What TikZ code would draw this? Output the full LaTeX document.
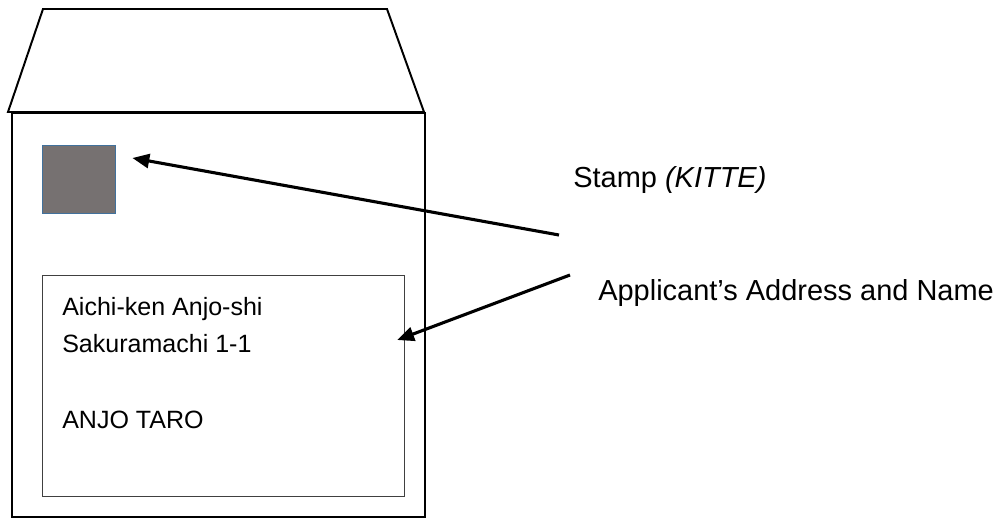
\documentclass[tikz,border=0pt]{standalone}
\usepackage{fontspec}
\setmainfont{Liberation Sans}
\usetikzlibrary{arrows.meta}
\definecolor{stampgray}{RGB}{118,113,113}
\definecolor{stampblue}{RGB}{65,113,156}

\tikzset{
	envline/.style={line width=1.4pt, draw=black},
	stampbox/.style={draw=stampblue, line width=1pt, fill=stampgray, inner sep=0pt, anchor=north west},
	addrbox/.style={draw=black!75, line width=0.8pt, inner sep=0pt, anchor=north west},
	pointer/.style={line width=2.2pt, -{Triangle[length=12pt,width=10pt]}},
	labeltext/.style={anchor=base west, inner sep=0pt, font=\fontsize{20.6}{24}\selectfont},
	addrtext/.style={anchor=base west, inner sep=0pt, font=\fontsize{17.8}{21}\selectfont}
}

\begin{document}
\begin{tikzpicture}[x=0.025cm, y=-0.025cm]
			%%%%% START %%%%%
			\useasboundingbox (0,0) rectangle (1008,527);
			
			% envelope
			\draw[envline] (8,112) -- (43,9) -- (387,9) -- (424,112) -- cycle;
			\draw[envline] (12,113) rectangle (425,517);
			
			\node[stampbox, minimum width=1.825cm, minimum height=1.7cm] (stamp) at (42,145) {};
			\node[addrbox, minimum width=9.05cm, minimum height=5.525cm] (addr) at (42,275) {};
			
			\node[addrtext] (line1) at ([shift={(20,40)}]addr.north west) {Aichi-ken Anjo-shi};
			\node[addrtext] (line2) at ([shift={(20,77)}]addr.north west) {Sakuramachi 1-1};
			\node[addrtext] (line3) at ([shift={(20,153)}]addr.north west) {ANJO TARO};
			
			% labels
			\node[labeltext] (stamplabel) at (573,187) {Stamp \textit{(KITTE)}};
			\node[labeltext] (addrlabel) at (598,300) {Applicant’s Address and Name};
			
			\coordinate (stamptail) at (559,235);
			\coordinate (addrtail) at (570,275);
			\draw[pointer] (stamptail) -- ([shift={(16,13)}]stamp.north east);
			\draw[pointer] (addrtail) -- ([shift={(-8,65)}]addr.north east);
			
			%%%%% END %%%%%
\end{tikzpicture}
\end{document}
